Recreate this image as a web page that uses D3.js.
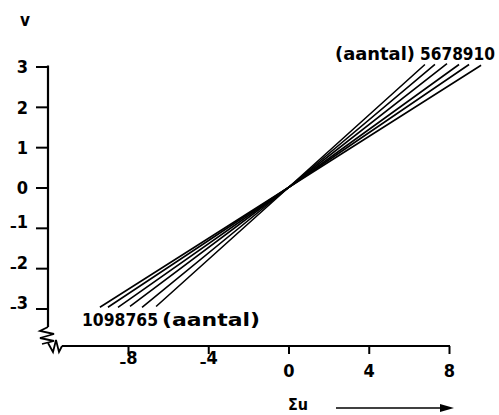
<!DOCTYPE html>
<html><head><meta charset="utf-8">
<script src="https://cdn.jsdelivr.net/npm/d3@7"></script>
<style>
body{margin:0;background:#fff;}
text{font-family:"DejaVu Sans Condensed","DejaVu Sans",sans-serif;font-weight:bold;fill:#000;}
</style></head>
<body><svg id="c" width="499" height="415"></svg>
<script>
// data
const aantal = [5, 6, 7, 8, 9, 10];
const uTop = [6.8, 7.3, 7.9, 8.5, 9.0, 9.6];
const vTop = [3.05, 3.05, 3.07, 3.05, 3.05, 3.03];
const uBottom = [-6.6, -7.3, -7.9, -8.5, -9.0, -9.4];
const vBottom = [-2.95, -2.97, -2.95, -2.97, -2.97, -2.97];
const xTicks = [-8, -4, 0, 4, 8];
const yTicks = [-3, -2, -1, 0, 1, 2, 3];
const topLabel = ["(aantal)", "5678910"];
const bottomLabel = ["1098765", "(aantal)"];

const svg = d3.select("#c");
const x = d3.scaleLinear().domain([-8, 8]).range([128, 449]);
const y = d3.scaleLinear().domain([-3, 3]).range([308.5, 66.5]);

function minusLabel(sel, v) {
  sel.text(null);
  if (v < 0) {
    sel.append("tspan").attr("dy", 3).attr("font-size", 15).text("–");
    sel.append("tspan").attr("dy", -3).text(Math.abs(v));
  } else sel.text(v);
}

// y axis
const ya = svg.append("g").attr("transform", "translate(48,0)")
  .call(d3.axisLeft(y).tickValues(yTicks).tickSize(12).tickPadding(8));
ya.select(".domain").remove();
ya.selectAll(".tick line").attr("stroke", "#000").attr("stroke-width", 2);
ya.selectAll(".tick text").attr("font-size", 18).attr("dy", "0.36em")
  .each(function(d){ minusLabel(d3.select(this), d); });
svg.append("line").attr("x1", 48).attr("x2", 48).attr("y1", y(3) - 1).attr("y2", 327)
  .attr("stroke", "#000").attr("stroke-width", 2.2);

// x axis
const xa = svg.append("g").attr("transform", "translate(0,346)")
  .call(d3.axisBottom(x).tickValues(xTicks).tickSize(8).tickPadding(10));
xa.select(".domain").remove();
xa.selectAll(".tick line").attr("stroke", "#000").attr("stroke-width", 2);
xa.selectAll(".tick text").attr("font-size", 18).attr("dy", "0.71em")
  .each(function(d){ minusLabel(d3.select(this), d); });
svg.append("line").attr("x1", 62).attr("x2", x(8) + 1).attr("y1", 346).attr("y2", 346)
  .attr("stroke", "#000").attr("stroke-width", 2.2);

// axis break symbols
svg.append("path")
  .attr("d", "M48,327 L40,331 L54,334 L40,338 L54,341 L42,344")
  .attr("fill", "none").attr("stroke", "#000").attr("stroke-width", 1.8);
svg.append("path")
  .attr("d", "M48,343 L53,352 L56,340 L59,352 L62,346")
  .attr("fill", "none").attr("stroke", "#000").attr("stroke-width", 1.8);

// axis titles
svg.append("text").attr("x", 25).attr("y", 26).attr("text-anchor", "middle")
  .attr("font-size", 17).text("v");
svg.append("text").attr("x", 288).attr("y", 410).attr("font-size", 16).text("Σu");
svg.append("line").attr("x1", 336).attr("x2", 442).attr("y1", 408).attr("y2", 408)
  .attr("stroke", "#000").attr("stroke-width", 1.5);
svg.append("path").attr("d", "M440,404 L454,408 L440,412 Z").attr("fill", "#000");

// lines
const line = d3.line().x(d => x(d[0])).y(d => y(d[1]));
svg.append("g").selectAll("path").data(aantal).join("path")
  .attr("d", (n, i) => line([[uBottom[i], vBottom[i]], [0, 0], [uTop[i], vTop[i]]]))
  .attr("fill", "none").attr("stroke", "#000").attr("stroke-width", 1.6);

// labels
function lab(txt, x0, x1, yb) {
  svg.append("text").attr("x", x0).attr("y", yb).attr("font-size", 18)
    .attr("textLength", x1 - x0).attr("lengthAdjust", "spacingAndGlyphs").text(txt);
}
lab(topLabel[0], 335, 415, 60);
lab(topLabel[1], 420, 495, 60);
lab(bottomLabel[0], 82, 158, 326);
lab(bottomLabel[1], 162, 260, 326);
</script></body></html>
